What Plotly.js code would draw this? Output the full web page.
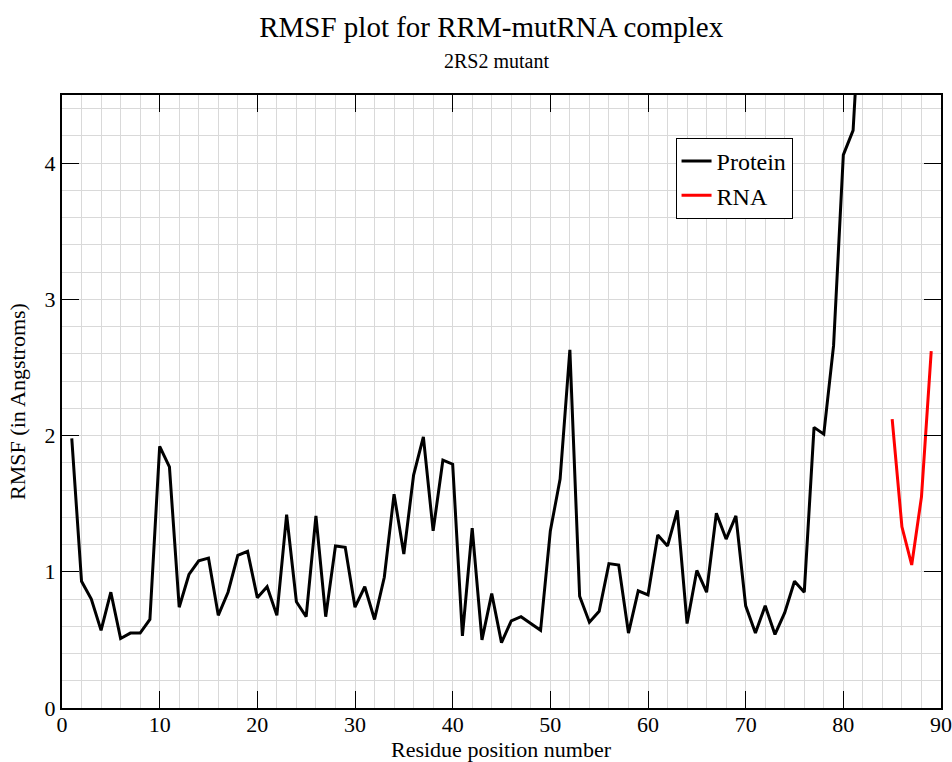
<!DOCTYPE html>
<html>
<head>
<meta charset="utf-8">
<script src="https://cdn.plot.ly/plotly-3.0.1.min.js"></script>
<style>html,body{margin:0;padding:0;background:#fff;}#chart{width:952px;height:762px;}</style>
</head>
<body>
<div id="chart"></div>
<script>
var proteinResidues = [1,2,3,4,5,6,7,8,9,10,11,12,13,14,15,16,17,18,19,20,21,22,23,24,25,26,27,28,29,30,31,32,33,34,35,36,37,38,39,40,41,42,43,44,45,46,47,48,49,50,51,52,53,54,55,56,57,58,59,60,61,62,63,64,65,66,67,68,69,70,71,72,73,74,75,76,77,78,79,80,81,82];
var proteinRmsf = [1.98,0.93,0.80,0.57,0.85,0.51,0.55,0.55,0.65,1.92,
                   1.77,0.74,0.98,1.08,1.10,0.68,0.85,1.12,1.15,0.81,
                   0.89,0.68,1.42,0.78,0.67,1.41,0.67,1.19,1.18,0.74,
                   0.89,0.65,0.96,1.57,1.13,1.71,1.99,1.30,1.82,1.79,
                   0.53,1.32,0.50,0.84,0.48,0.64,0.67,0.62,0.57,1.30,
                   1.68,2.63,0.82,0.63,0.71,1.06,1.05,0.55,0.86,0.83,
                   1.27,1.19,1.45,0.62,1.01,0.85,1.43,1.24,1.41,0.75,
                   0.55,0.75,0.54,0.70,0.93,0.85,2.06,2.01,2.66,4.06,
                   4.24,5.5];
var rnaResidues = [85,86,87,88,89];
var rnaRmsf = [2.12,1.33,1.05,1.55,2.62];

var titleText = "RMSF plot for RRM-mutRNA complex";
var subtitleText = "2RS2 mutant";
var xTitle = "Residue position number";
var yTitle = "RMSF (in Angstroms)";

var serif = "'Liberation Serif', 'Times New Roman', serif";

var traces = [
  {x: proteinResidues, y: proteinRmsf, name: "Protein", type: "scatter", mode: "lines",
   line: {color: "#000000", width: 3}},
  {x: rnaResidues, y: rnaRmsf, name: "RNA", type: "scatter", mode: "lines",
   line: {color: "#ff0000", width: 3}}
];

var axisCommon = {
  showline: true, linecolor: "#000", linewidth: 2, mirror: "ticks",
  ticks: "inside", ticklen: 17, tickwidth: 1, tickcolor: "#000",
  showgrid: true, gridcolor: "#d9d9d9", gridwidth: 1,
  zeroline: false,
  tickfont: {family: serif, size: 22, color: "#000"}
};

var layout = {
  width: 952, height: 762,
  paper_bgcolor: "#fff", plot_bgcolor: "#fff",
  margin: {l: 62, r: 11, t: 95, b: 54},
  font: {family: serif, color: "#000"},
  title: {text: titleText, font: {family: serif, size: 29, color: "#000"},
          x: 0.516, xanchor: "center", y: 1 - 27/762, yanchor: "middle", yref: "container"},
  xaxis: Object.assign({}, axisCommon, {
    range: [0, 90], dtick: 10, tick0: 0, ticklabelstandoff: -4,
    minor: {dtick: 2, showgrid: true, gridcolor: "#d9d9d9", gridwidth: 1, ticks: ""}
  }),
  yaxis: Object.assign({}, axisCommon, {
    range: [0, 4.5], dtick: 1, tick0: 0,
    minor: {dtick: 0.2, showgrid: true, gridcolor: "#d9d9d9", gridwidth: 1, ticks: ""},
    title: {text: yTitle, font: {family: serif, size: 22, color: "#000"}, standoff: 13}
  }),
  showlegend: true,
  legend: {x: 0.698, y: 0.93, xanchor: "left", yanchor: "top",
           bgcolor: "#fff", bordercolor: "#000", borderwidth: 1,
           font: {family: serif, size: 24, color: "#000"}, tracegroupgap: 0},
  annotations: [
    {text: subtitleText, xref: "paper", yref: "paper", x: 0.494, y: 1 + 34/613,
     xanchor: "center", yanchor: "middle", showarrow: false,
     font: {family: serif, size: 20, color: "#000"}},
    {text: xTitle, xref: "paper", yref: "paper", x: 0.5, y: 0, yshift: -28,
     xanchor: "center", yanchor: "top", showarrow: false, borderpad: 0,
     font: {family: serif, size: 22, color: "#000"}}
  ]
};

Plotly.newPlot("chart", traces, layout, {displayModeBar: false, staticPlot: true});
</script>
</body>
</html>
